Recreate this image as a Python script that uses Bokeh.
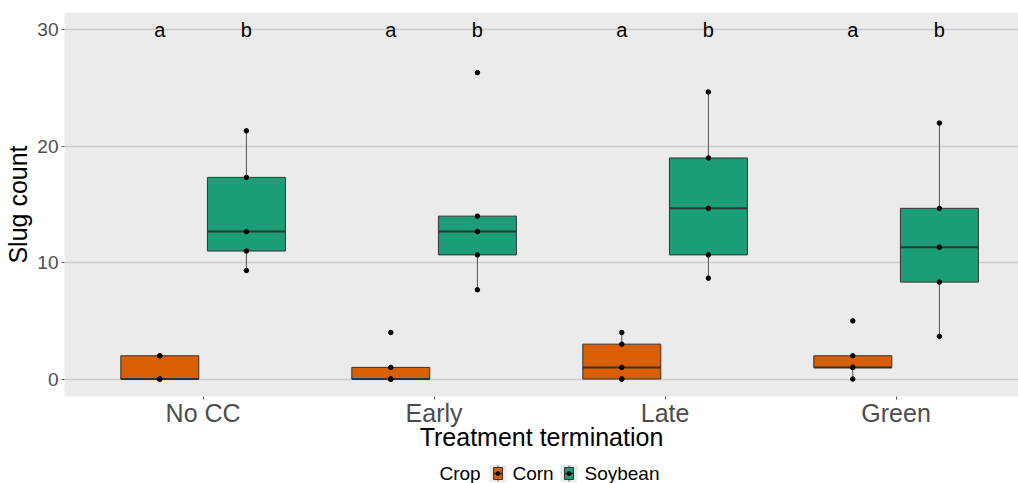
import numpy as np
from bokeh.plotting import figure
from bokeh.layouts import column
from bokeh.models import ColumnDataSource, FixedTicker, Range1d
from bokeh.core.properties import value
from bokeh.embed import file_html
from bokeh.resources import INLINE

# ---- data ----
treatments = ["No CC", "Early", "Late", "Green"]
crops = ["Corn", "Soybean"]
crop_colors = ["#D95F02", "#1B9E77"]
legend_title = "Crop"

corn_nocc = [0, 0, 0, 2, 2]
corn_early = [0, 0, 0, 1, 4]
corn_late = [0, 0, 1, 3, 4]
corn_green = [0, 1, 1, 2, 5]

soy_nocc = [9.33, 11.0, 12.67, 17.33, 21.33]
soy_early = [7.67, 10.67, 12.67, 14.0, 26.33]
soy_late = [8.67, 10.67, 14.67, 19.0, 24.67]
soy_green = [3.67, 8.33, 11.33, 14.67, 22.0]

letters_corn = ["a", "a", "a", "a"]
letters_soy = ["b", "b", "b", "b"]
letter_y = 30

y_ticks = [0, 10, 20, 30]

groups = {
    "Corn": [corn_nocc, corn_early, corn_late, corn_green],
    "Soybean": [soy_nocc, soy_early, soy_late, soy_green],
}

FONT = "Liberation Sans"
dodge = 0.1875
box_w = 0.3375
FRAME_L = 64

p = figure(width=1018, height=458, output_backend="svg", toolbar_location=None,
           x_range=Range1d(0.4, 0.4 + (1018 - FRAME_L) / 231.0), y_range=Range1d(-1.5, 31.5),
           min_border_left=FRAME_L, min_border_right=0, min_border_top=12, min_border_bottom=62)
p.background_fill_color = "#EBEBEB"
p.border_fill_color = "white"
p.outline_line_color = None

for ci, crop in enumerate(crops):
    xs, q1s, q3s, meds, lo, hi = [], [], [], [], [], []
    px, py = [], []
    for ti, vals in enumerate(groups[crop]):
        v = np.array(vals, dtype=float)
        q1, med, q3 = np.percentile(v, [25, 50, 75])
        iqr = q3 - q1
        lw = v[v >= q1 - 1.5 * iqr].min()
        uw = v[v <= q3 + 1.5 * iqr].max()
        x = ti + 1 + (dodge if ci == 1 else -dodge)
        xs.append(x); q1s.append(q1); q3s.append(q3); meds.append(med)
        lo.append(lw); hi.append(uw)
        px += [x] * len(v); py += list(v)
    src = ColumnDataSource(dict(x=xs, q1=q1s, q3=q3s, med=meds, lo=lo, hi=hi,
                                xl=[x - box_w / 2 for x in xs], xr=[x + box_w / 2 for x in xs]))
    p.segment(x0="x", x1="x", y0="q3", y1="hi", source=src, line_color="#555555", line_width=1)
    p.segment(x0="x", x1="x", y0="q1", y1="lo", source=src, line_color="#555555", line_width=1)
    p.vbar(x="x", width=box_w, top="q3", bottom="q1", source=src,
           fill_color=crop_colors[ci], line_color="#333333", line_width=1)
    p.segment(x0="xl", x1="xr", y0="med", y1="med", source=src, line_color="#333333", line_width=2)
    p.scatter(x=px, y=py, size=4.5, color="black")

# letters
lx = [t + 1 - dodge for t in range(4)] + [t + 1 + dodge for t in range(4)]
p.text(x=lx, y=[letter_y] * 8, text=letters_corn + letters_soy, text_align="center",
       text_baseline="middle", text_font=value(FONT), text_font_size="20px", text_color="black")

# axes
p.xaxis.ticker = FixedTicker(ticks=[1, 2, 3, 4])
p.xaxis.major_label_overrides = {i + 1: t for i, t in enumerate(treatments)}
p.yaxis.ticker = FixedTicker(ticks=y_ticks)
p.xaxis.axis_label = "Treatment termination"
p.yaxis.axis_label = "Slug count"
for ax in (p.xaxis, p.yaxis):
    ax.axis_line_color = None
    ax.major_tick_line_color = "#555555"
    ax.major_tick_out = 3
    ax.major_tick_in = 0
    ax.minor_tick_line_color = None
    ax.major_label_text_font = FONT
    ax.major_label_text_color = "#4D4D4D"
    ax.axis_label_text_font = FONT
    ax.axis_label_text_font_style = "normal"
    ax.axis_label_text_color = "black"
    ax.axis_label_text_font_size = "25px"
p.xaxis.major_label_text_font_size = "25px"
p.yaxis.major_label_text_font_size = "19px"
p.xaxis.major_label_standoff = -1
p.yaxis.major_label_standoff = 3
p.xaxis.axis_label_standoff = -7
p.yaxis.axis_label_standoff = 2

p.xgrid.grid_line_color = None
p.ygrid.grid_line_color = "#CCCCCC"
p.ygrid.grid_line_width = 1.3
p.ygrid.ticker = FixedTicker(ticks=y_ticks)

# ---- legend strip (separate small figure below the plot; its frame aligns with the plot's) ----
LH = 25
leg = figure(width=1018, height=LH, output_backend="svg", toolbar_location=None,
             x_range=Range1d(FRAME_L, 1018), y_range=Range1d(0, LH),
             x_axis_location=None, y_axis_location=None,
             min_border_left=FRAME_L, min_border_right=0, min_border_top=0, min_border_bottom=0)
leg.grid.visible = False
leg.outline_line_color = None
leg.background_fill_color = "white"
leg.border_fill_color = "white"

yc = 10
title_x = 439
key_x = [497.5, 568.5]
label_x = [512, 584]
leg.text(x=[title_x] + label_x, y=[yc] * 3, text=[legend_title] + crops,
         text_align="left", text_baseline="middle", text_font=value(FONT),
         text_font_size="19px", text_color="black")
leg.rect(x=key_x, y=[yc] * 2, width=17, height=17, fill_color="#EBEBEB", line_color=None)
leg.segment(x0=key_x, x1=key_x, y0=[yc - 8] * 2, y1=[yc + 8] * 2, line_color="#555555", line_width=1)
leg.rect(x=key_x, y=[yc] * 2, width=9, height=12, fill_color=crop_colors, line_color="#333333", line_width=1)
leg.segment(x0=[k - 4.5 for k in key_x], x1=[k + 4.5 for k in key_x], y0=[yc] * 2, y1=[yc] * 2,
            line_color="#333333", line_width=1.5)
leg.scatter(x=key_x, y=[yc] * 2, size=4, color="black")

layout = column(p, leg, spacing=0)
open("out.html", "w").write(file_html(layout, INLINE))
